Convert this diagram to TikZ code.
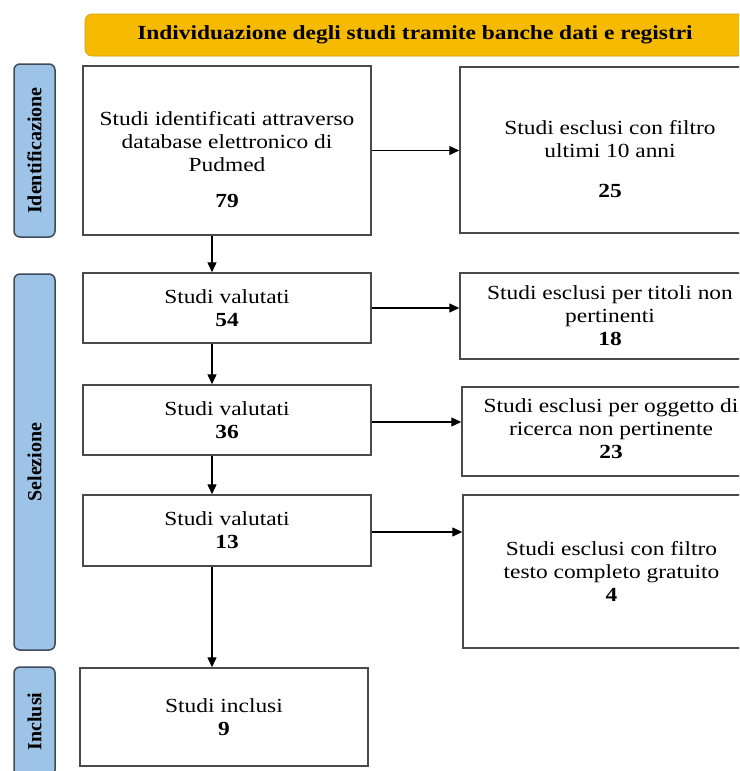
\documentclass[tikz,border=0pt]{standalone}
\usepackage{fontspec}
\setmainfont{Liberation Serif}[FakeStretch=1.17]
\newfontfamily\lblfont{Liberation Serif}
\usetikzlibrary{arrows.meta}
\definecolor{gold}{HTML}{F6BA00}
\definecolor{lblue}{HTML}{9DC3E6}
\definecolor{lborder}{HTML}{3E4A5A}
\definecolor{bline}{HTML}{4A4A4A}
\begin{document}
\begin{tikzpicture}[x=1pt,y=-1pt,
  box/.style={draw=bline, line width=1.5pt, fill=white, align=center, inner sep=2pt,
    font=\fontsize{20}{23}\selectfont},
  arr/.style={draw=black, line width=1.4pt, -{Triangle[length=10pt,width=9pt]}},
  side/.style={draw=lborder, line width=1.5pt, fill=lblue, rounded corners=6pt,
    rotate=90, inner sep=0pt, font=\lblfont\bfseries\fontsize{20}{23}\selectfont},
  banner/.style={draw=gold!85!black, line width=0.6pt, fill=gold, rounded corners=7pt,
    inner sep=0pt, font=\bfseries\fontsize{20}{23}\selectfont}
]
\useasboundingbox (0,0) rectangle (739,771);
\clip (0,0) rectangle (739,771);
\fill[white] (0,0) rectangle (739,771);

% banner
\node[banner, minimum width=660, minimum height=42] (ban) at (415,35)
  {Individuazione degli studi tramite banche dati e registri};

% side labels
\node[side, minimum width=173, minimum height=41] (lid) at (34.5,150.5) {Identificazione};
\node[side, minimum width=376, minimum height=41] (lsel) at (34.5,462) {Selezione};
\node[side, minimum width=109, minimum height=41] (linc) at (34.5,721.5) {Inclusi};

% left column
\node[box, minimum width=288, minimum height=169] (b1) at (227,150.5)
  {\rule{0pt}{32pt}Studi identificati attraverso\\database elettronico di\\Pudmed\\[13pt]\textbf{79}};
\node[box, minimum width=288, minimum height=70] (b2) at (227,308)
  {Studi valutati\\\textbf{54}};
\node[box, minimum width=288, minimum height=70] (b3) at (227,420)
  {Studi valutati\\\textbf{36}};
\node[box, minimum width=288, minimum height=71] (b4) at (227,530.5)
  {Studi valutati\\\textbf{13}};
\node[box, minimum width=288, minimum height=98] (b5) at (224,717)
  {Studi inclusi\\\textbf{9}};

% right column
\node[box, minimum width=300, minimum height=166] (r1) at (610,150)
  {\rule{0pt}{32pt}Studi esclusi con filtro\\ultimi 10 anni\\[17pt]\textbf{25}};
\node[box, minimum width=300, minimum height=86] (r2) at (610,316)
  {Studi esclusi per titoli non\\pertinenti\\\textbf{18}};
\node[box, minimum width=298, minimum height=89] (r3) at (611,431.5)
  {Studi esclusi per oggetto di\\ricerca non pertinente\\\textbf{23}\rule[-6pt]{0pt}{6pt}};
\node[box, minimum width=297, minimum height=153] (r4) at (611.5,571.5)
  {Studi esclusi con filtro\\testo completo gratuito\\\textbf{4}};

% connectors
\coordinate (ax) at (212,0);
\draw[arr] (b1.east) -- (b1.east -| r1.west);
\draw[arr] (b2.east) -- (b2.east -| r2.west);
\draw[arr] ([yshift=-2pt]b3.east) -- ([yshift=-2pt]b3.east -| r3.west);
\draw[arr] ([yshift=-1.5pt]b4.east) -- ([yshift=-1.5pt]b4.east -| r4.west);
\draw[arr] (b1.south -| ax) -- (b2.north -| ax);
\draw[arr] (b2.south -| ax) -- (b3.north -| ax);
\draw[arr] (b3.south -| ax) -- (b4.north -| ax);
\draw[arr] (b4.south -| ax) -- (b5.north -| ax);
\end{tikzpicture}
\end{document}
